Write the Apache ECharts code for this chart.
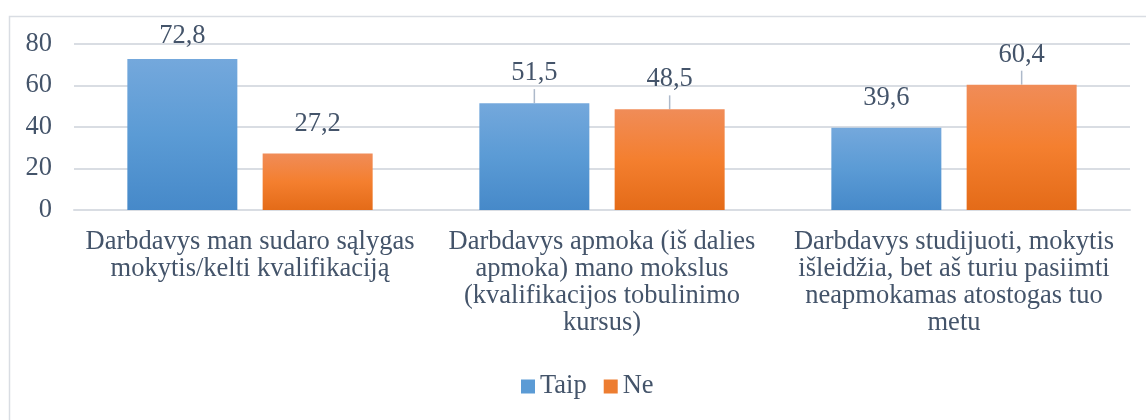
<!DOCTYPE html>
<html>
<head>
<meta charset="utf-8">
<script src="https://cdn.jsdelivr.net/npm/echarts@6/dist/echarts.min.js"></script>
<style>
html,body{margin:0;padding:0;background:#fff;}
#main{width:1146px;height:420px;}
</style>
</head>
<body>
<div id="main"></div>
<script>
const categories = [
  "Darbdavys man sudaro sąlygas\nmokytis/kelti kvalifikaciją",
  "Darbdavys apmoka (iš dalies\napmoka) mano mokslus\n(kvalifikacijos tobulinimo\nkursus)",
  "Darbdavys studijuoti, mokytis\nišleidžia, bet aš turiu pasiimti\nneapmokamas atostogas tuo\nmetu"
];
const seriesNames = ["Taip", "Ne"];
const taipValues = [72.8, 51.5, 39.6];
const neValues = [27.2, 48.5, 60.4];
const yTicks = [0, 20, 40, 60, 80];
// labels drawn with a leader line (per series)
const taipCallout = [false, true, false];
const neCallout = [false, true, true];

const FONT = 'Liberation Serif';
const TXT = '#44546A';
const FS = 26.5;

function grad(top, mid, bot) {
  return new echarts.graphic.LinearGradient(0, 0, 0, 1, [
    {offset: 0, color: top}, {offset: 0.5, color: mid}, {offset: 1, color: bot}
  ]);
}
const blue = grad('#74a8dc', '#5b9bd5', '#4689c9');
const orange = grad('#f08c58', '#f47f2f', '#e46b18');

function fmt(p) { return String(p.value).replace('.', ','); }

function makeSeries(name, vals, callout, color) {
  return {
    name: name,
    type: 'bar',
    barWidth: 110,
    barGap: '23%',
    data: vals.map((v, i) => {
      const item = {value: v, labelLine: {show: callout[i]}};
      if (callout[i]) {
        item.label = {distance: 14, lineHeight: 32};
      } else if (v > 70) {
        item.label = {distance: 9};
      }
      return item;
    }),
    itemStyle: {color: color},
    label: {
      show: true, position: 'top', distance: 16,
      formatter: fmt, color: TXT, fontFamily: FONT, fontSize: FS
    },
    labelLine: {show: true, lineStyle: {color: '#adb9ca', width: 1.5}},
    labelLayout: function () { return {}; },
    emphasis: {disabled: true}
  };
}

const chart = echarts.init(document.getElementById('main'), null, {renderer: 'canvas'});
chart.setOption({
  animation: false,
  backgroundColor: '#fff',
  color: ['#5b9bd5', '#ed7d31'],
  graphic: [{
    type: 'rect', left: 7, top: 14, z: -10,
    shape: {width: 1160, height: 430},
    style: {fill: 'none', stroke: '#d9dde3', lineWidth: 1.5}
  }],
  grid: {left: 74, right: 16, top: 44, bottom: 210, containLabel: false},
  legend: {
    bottom: 15, left: 516,
    itemWidth: 14, itemHeight: 14, itemGap: 17,
    icon: 'rect',
    textStyle: {color: TXT, fontFamily: FONT, fontSize: FS},
    data: [
      {name: seriesNames[0], itemStyle: {color: '#5b9bd5'}},
      {name: seriesNames[1], itemStyle: {color: '#ed7d31'}}
    ]
  },
  xAxis: {
    type: 'category',
    data: categories,
    axisLine: {show: true, lineStyle: {color: '#d9dde3', width: 2}},
    axisTick: {show: false},
    axisLabel: {
      interval: 0, color: TXT, fontFamily: FONT, fontSize: FS,
      lineHeight: 27, margin: 19, align: 'center'
    }
  },
  yAxis: {
    type: 'value', min: 0, max: 80, interval: 20,
    axisLine: {show: false}, axisTick: {show: false},
    splitLine: {lineStyle: {color: '#d9dde3', width: 2}},
    axisLabel: {color: TXT, fontFamily: FONT, fontSize: FS, margin: 22}
  },
  series: [
    makeSeries(seriesNames[0], taipValues, taipCallout, blue),
    makeSeries(seriesNames[1], neValues, neCallout, orange)
  ]
});
</script>
</body>
</html>
